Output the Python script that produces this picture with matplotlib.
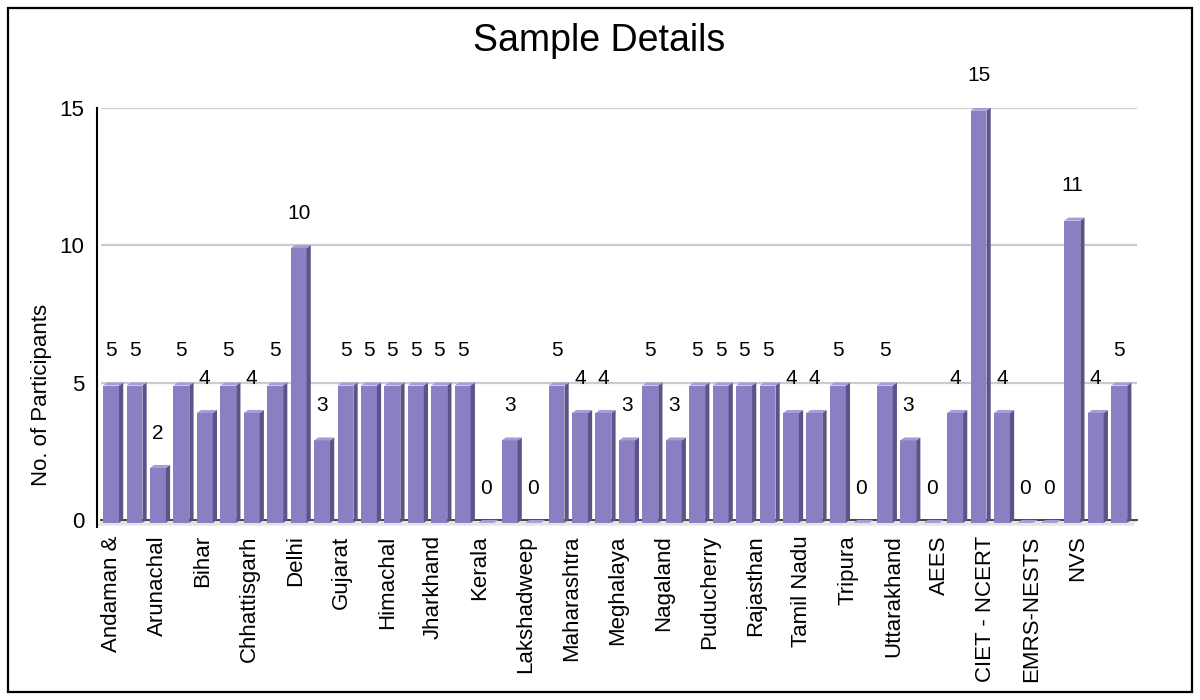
import matplotlib
matplotlib.use("Agg")
import matplotlib.pyplot as plt
from matplotlib.patches import Polygon, Rectangle

plt.rcParams['font.family'] = ['Liberation Sans', 'DejaVu Sans']

# participants per state / organisation
categories = ['Andaman &', 'Andhra Pradesh', 'Arunachal', 'Assam', 'Bihar',
              'Chandigarh', 'Chhattisgarh', 'DNH & DD', 'Delhi', 'Goa',
              'Gujarat', 'Haryana', 'Himachal', 'Jammu & Kashmir', 'Jharkhand',
              'Karnataka', 'Kerala', 'Ladakh', 'Lakshadweep', 'Madhya Pradesh',
              'Maharashtra', 'Manipur', 'Meghalaya', 'Mizoram', 'Nagaland',
              'Odisha', 'Puducherry', 'Punjab', 'Rajasthan', 'Sikkim',
              'Tamil Nadu', 'Telangana', 'Tripura', 'Uttar Pradesh', 'Uttarakhand',
              'West Bengal', 'AEES', 'CBSE', 'CIET - NCERT', 'CTSA',
              'EMRS-NESTS', 'KVS', 'NVS', 'Sainik Schools']
participants = [5, 5, 2, 5, 4, 5, 4, 5, 10, 3,
                5, 5, 5, 5, 5, 5, 0, 3, 0, 5,
                4, 4, 3, 5, 3, 5, 5, 5, 5, 4,
                4, 5, 0, 5, 3, 0, 4, 15, 4, 0,
                0, 11, 4, 5]
yticks = [0, 5, 10, 15]

front = '#8C7EC3'
side = '#5E5388'
top = '#A79CD7'

W = 1200
H = 700
fig = plt.figure(figsize=(W / 100, H / 100), dpi=100)
ax = fig.add_axes([0.0808, 0.2471, 0.8675, 0.599])

n = len(categories)
hw = 0.34      # half width of bar face
dx = 0.18      # depth offset in x
dy = 0.11      # depth offset in y

ax.set_xlim(-0.6, 43.8)
ax.set_ylim(-0.15, 15.1)

# back wall gridlines
for v in yticks[1:]:
    ax.plot([-0.6 + dx, 43.77], [v + dy, v + dy], color='#cccccc', lw=1.6,
            zorder=1, solid_capstyle='butt')

# floor
floor = Polygon([(-0.6, -0.1), (43.6, -0.1), (43.6 + dx, dy), (-0.6 + dx, dy)],
                closed=True, facecolor='#e4e4e4', edgecolor='none', zorder=1)
ax.add_patch(floor)
ax.plot([-0.6 + dx, 43.6 + dx], [dy, dy], color='#444444', lw=1.4, zorder=1.5)

for i, v in enumerate(participants):
    if v > 0:
        ax.bar(i, v, width=2 * hw, color=front, edgecolor='none', zorder=3)
        ax.add_patch(Polygon([(i + hw, 0), (i + hw + dx, dy),
                              (i + hw + dx, v + dy), (i + hw, v)],
                             closed=True, facecolor=side, edgecolor='none', zorder=3))
    ax.add_patch(Polygon([(i - hw, v), (i + hw, v),
                          (i + hw + dx, v + dy), (i - hw + dx, v + dy)],
                         closed=True, facecolor=top, edgecolor='none', zorder=3))
    ax.text(i, v + 1.27, str(v), ha='center', va='center', fontsize=15, zorder=4)

# labels sit on a slightly narrower spacing (perspective)
pos = [i * 0.982 for i in range(0, n, 2)]
ax.set_xticks(pos)
ax.set_xticklabels(categories[::2], rotation=90, va='top', ha='center', fontsize=16)
ax.set_yticks([v + dy for v in yticks])
ax.set_yticklabels([str(v) for v in yticks], fontsize=16)
ax.tick_params(axis='both', length=0)
ax.tick_params(axis='x', pad=6)
ax.tick_params(axis='y', pad=9)

for s in ['top', 'right', 'bottom']:
    ax.spines[s].set_visible(False)
ax.spines['left'].set_linewidth(1.5)
ax.spines['left'].set_color('black')

fig.text(599 / W, 1 - 41 / H, 'Sample Details', ha='center', va='center', fontsize=27)
fig.text(42 / W, 1 - 395 / H, 'No. of Participants', ha='center', va='center',
         rotation=90, fontsize=16)

fig.patches.append(Rectangle((8 / W, 8 / H), 1 - 16 / W, 1 - 16 / H,
                             transform=fig.transFigure, fill=False,
                             edgecolor='black', linewidth=1.6))

fig.savefig('out.png', dpi=100)
